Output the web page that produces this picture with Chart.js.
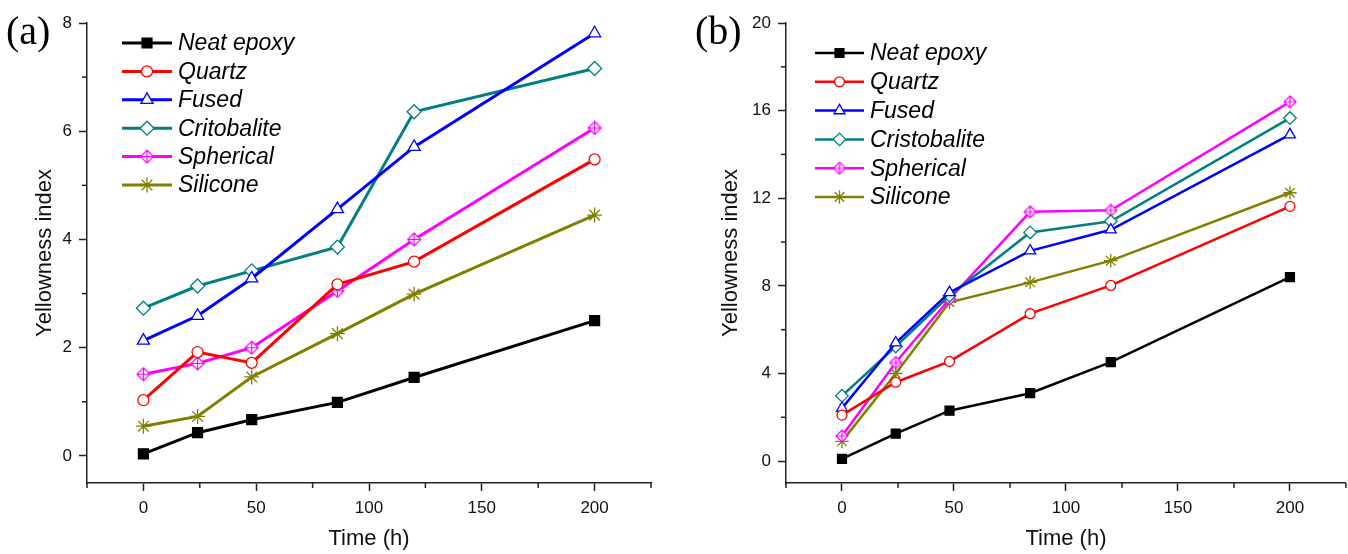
<!DOCTYPE html>
<html>
<head>
<meta charset="utf-8">
<script src="https://cdn.jsdelivr.net/npm/chart.js@4.4.1/dist/chart.umd.min.js"></script>
<style>
  html, body { margin: 0; padding: 0; background: #fff; overflow: hidden; width: 1348px; height: 554px; }
  canvas { position: absolute; top: 0; }
  #chartA { left: 0; }
  #chartB { left: 674px; }
</style>
</head>
<body>
<canvas id="chartA" width="674" height="554"></canvas>
<canvas id="chartB" width="680" height="554"></canvas>
<script>
// time points (h)
const timesA = [0, 24, 48, 86, 120, 200];
const timesB = [0, 24, 48, 84, 120, 200];

const namesA = ['Neat epoxy', 'Quartz', 'Fused', 'Critobalite', 'Spherical', 'Silicone'];
const namesB = ['Neat epoxy', 'Quartz', 'Fused', 'Cristobalite', 'Spherical', 'Silicone'];

// panel (a)
const neatA     = [0.04, 0.43, 0.67, 0.99, 1.45, 2.50];
const quartzA   = [1.03, 1.92, 1.72, 3.17, 3.59, 5.48];
const fusedA    = [2.13, 2.59, 3.28, 4.56, 5.71, 7.81];
const critoA    = [2.73, 3.14, 3.42, 3.86, 6.36, 7.16];
const spherA    = [1.51, 1.71, 2.00, 3.05, 4.00, 6.06];
const siliconeA = [0.55, 0.73, 1.46, 2.26, 2.99, 4.45];

// panel (b)
const neatB     = [0.10, 1.25, 2.30, 3.10, 4.52, 8.40];
const quartzB   = [2.10, 3.60, 4.55, 6.73, 8.02, 11.63];
const fusedB    = [2.42, 5.40, 7.70, 9.60, 10.56, 14.90];
const cristoB   = [2.98, 5.23, 7.55, 10.44, 10.95, 15.66];
const spherB    = [1.15, 4.50, 7.40, 11.38, 11.45, 16.40];
const siliconeB = [0.90, 4.00, 7.25, 8.16, 9.15, 12.25];

const colors = ['#000000', '#ff0000', '#0000ff', '#008080', '#ff00ff', '#808000'];

function sphereMarker(size, color) {
  const c = document.createElement('canvas');
  c.width = size; c.height = size;
  const g = c.getContext('2d');
  const m = size / 2, e = 1;
  g.strokeStyle = color;
  g.lineWidth = 1.2;
  g.fillStyle = '#fff';
  g.beginPath();
  g.moveTo(m, e); g.lineTo(size - e, m); g.lineTo(m, size - e); g.lineTo(e, m); g.closePath();
  g.fill(); g.stroke();
  g.beginPath();
  g.moveTo(m, e); g.lineTo(m, size - e);
  g.moveTo(e, m); g.lineTo(size - e, m);
  g.stroke();
  return c;
}

function buildDatasets(times, series, names, lw, k) {
  const styles = [
    { pointStyle: 'rect', radius: 7 * k, bg: '#000000' },
    { pointStyle: 'circle', radius: 5.5 * k, bg: '#ffffff' },
    { pointStyle: 'triangle', radius: 7 * k, bg: '#ffffff' },
    { pointStyle: 'rectRot', radius: 7 * k, bg: '#ffffff' },
    { pointStyle: sphereMarker(Math.round(15 * k), colors[4]), radius: 7 * k, bg: '#ffffff' },
    { pointStyle: 'star', radius: 7.5 * k, bg: '#ffffff' }
  ];
  return series.map((vals, i) => ({
    label: names[i],
    data: vals.map((v, j) => ({ x: times[j], y: v })),
    borderColor: colors[i],
    backgroundColor: colors[i],
    borderWidth: lw,
    tension: 0,
    pointStyle: styles[i].pointStyle,
    pointRadius: styles[i].radius,
    pointBackgroundColor: styles[i].bg,
    pointBorderColor: colors[i],
    pointBorderWidth: 1.3
  }));
}

const extras = {
  id: 'extras',
  afterDraw(chart, args, opts) {
    const ctx = chart.ctx;
    ctx.save();
    // minor ticks
    ctx.strokeStyle = '#222';
    ctx.lineWidth = 1.5;
    const xs = chart.scales.x, ys = chart.scales.y;
    xs.ticks.forEach(t => {
      if (t.value % opts.xMajor !== 0) {
        const px = xs.getPixelForValue(t.value);
        ctx.beginPath(); ctx.moveTo(px, xs.top); ctx.lineTo(px, xs.top + 5); ctx.stroke();
      }
    });
    ys.ticks.forEach(t => {
      if (t.value % opts.yMajor !== 0) {
        const py = ys.getPixelForValue(t.value);
        ctx.beginPath(); ctx.moveTo(ys.right - 5, py); ctx.lineTo(ys.right, py); ctx.stroke();
      }
    });
    // panel letter
    ctx.fillStyle = '#000';
    ctx.font = '40px "Liberation Serif"';
    ctx.textBaseline = 'middle';
    ctx.textAlign = 'left';
    ctx.fillText(opts.panel, opts.panelX, 33);
    // legend
    chart.data.datasets.forEach((ds, i) => {
      const y = opts.legY + i * opts.legStep;
      ctx.strokeStyle = ds.borderColor;
      ctx.lineWidth = ds.borderWidth;
      ctx.beginPath(); ctx.moveTo(opts.legX1, y); ctx.lineTo(opts.legX2, y); ctx.stroke();
      ctx.strokeStyle = ds.pointBorderColor;
      ctx.fillStyle = ds.pointBackgroundColor;
      ctx.lineWidth = ds.pointBorderWidth;
      Chart.helpers.drawPoint(ctx, {
        pointStyle: ds.pointStyle, radius: ds.pointRadius, rotation: 0, borderWidth: ds.pointBorderWidth
      }, (opts.legX1 + opts.legX2) / 2, y);
      ctx.fillStyle = '#000';
      ctx.font = 'italic 23px "Liberation Sans"';
      ctx.textBaseline = 'middle';
      ctx.fillText(ds.label, opts.legX2 + 6, y + 1);
    });
    ctx.restore();
  }
};

function makeChart(id, datasets, o) {
  const tickFont = { family: 'Liberation Sans', size: 17 };
  const titleFont = { family: 'Liberation Sans', size: 22 };
  return new Chart(document.getElementById(id), {
    type: 'line',
    data: { datasets },
    plugins: [extras],
    options: {
      responsive: false,
      animation: false,
      events: [],
      layout: { padding: { top: 23, right: o.padRight, left: 0, bottom: 0 } },
      plugins: {
        legend: { display: false },
        tooltip: { enabled: false },
        extras: o.extras
      },
      scales: {
        x: {
          type: 'linear',
          min: -25, max: 225,
          afterBuildTicks: s => { s.ticks = []; for (let v = -25; v <= 225; v += 25) s.ticks.push({ value: v }); },
          afterFit: s => { s.height = 71; },
          ticks: {
            autoSkip: false, maxRotation: 0, padding: 7, color: '#111', font: tickFont,
            callback: v => (v >= 0 && v <= 200 && v % 50 === 0) ? String(v) : ''
          },
          grid: {
            drawOnChartArea: false, tickLength: 8, tickWidth: 1.5,
            tickColor: c => (c.tick && c.tick.value % 50 === 0) ? '#222' : 'rgba(0,0,0,0)'
          },
          border: { display: true, color: '#222', width: 1.5 },
          title: { display: true, text: 'Time (h)', color: '#111', font: titleFont, padding: { top: 0, bottom: 2 } }
        },
        y: {
          min: o.yMin, max: o.yMax,
          afterBuildTicks: s => { s.ticks = []; for (let v = 0; v <= o.yMax; v += o.yMinor) s.ticks.push({ value: v }); },
          afterFit: s => { s.width = o.yWidth; },
          ticks: {
            autoSkip: false, padding: 7, color: '#111', font: tickFont,
            callback: v => (v % o.yMajor === 0) ? String(v) : ''
          },
          grid: {
            drawOnChartArea: false, tickLength: 8, tickWidth: 1.5,
            tickColor: c => (c.tick && c.tick.value % o.yMajor === 0) ? '#222' : 'rgba(0,0,0,0)'
          },
          border: { display: true, color: '#222', width: 1.5 },
          title: { display: true, text: 'Yellowness index', color: '#111', font: titleFont, padding: { top: o.yTitlePad, bottom: 0 } }
        }
      }
    }
  });
}

makeChart('chartA',
  buildDatasets(timesA, [neatA, quartzA, fusedA, critoA, spherA, siliconeA], namesA, 3, 1),
  {
    padRight: 23, yMin: -0.5, yMax: 8, yMinor: 1, yMajor: 2, yWidth: 87, yTitlePad: 32,
    extras: { xMajor: 50, yMajor: 2, panel: '(a)', panelX: 6, legX1: 122, legX2: 172, legY: 43, legStep: 28.4 }
  });

makeChart('chartB',
  buildDatasets(timesB, [neatB, quartzB, fusedB, cristoB, spherB, siliconeB], namesB, 2.5, 0.9),
  {
    padRight: 3, yMin: -1, yMax: 20, yMinor: 2, yMajor: 4, yWidth: 112, yTitlePad: 44,
    extras: { xMajor: 50, yMajor: 4, panel: '(b)', panelX: 21, legX1: 141, legX2: 190, legY: 53, legStep: 28.8 }
  });
</script>
</body>
</html>
